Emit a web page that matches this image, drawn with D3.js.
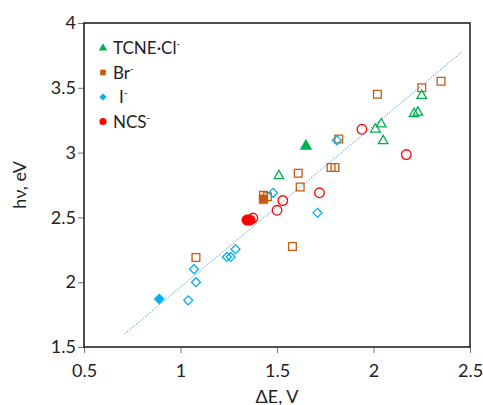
<!DOCTYPE html>
<html>
<head>
<meta charset="utf-8">
<script src="https://cdn.jsdelivr.net/npm/d3@7"></script>
<style>
  body { margin: 0; background: #fff; }
  text { font-family: Lato, "Open Sans", sans-serif; fill: #222; }
</style>
</head>
<body>
<script>
// data: [ΔE, hν], filled = first marker of each series
var tcneOpen = [[1.51, 2.82], [2.01, 3.18], [2.04, 3.22], [2.05, 3.09], [2.21, 3.30], [2.23, 3.31], [2.25, 3.44]];
var tcneFilled = [[1.65, 3.05]];
var brOpen = [[1.43, 2.67], [1.45, 2.66], [1.08, 2.19], [1.58, 2.275], [1.61, 2.84], [1.62, 2.735], [1.78, 2.885], [1.80, 2.885], [1.82, 3.105], [2.02, 3.45], [2.25, 3.50], [2.35, 3.55]];
var brFilled = [[1.43, 2.64]];
var iOpen = [[1.04, 1.86], [1.07, 2.10], [1.08, 2.00], [1.24, 2.195], [1.26, 2.195], [1.285, 2.255], [1.48, 2.69], [1.71, 2.535], [1.81, 3.095]];
var iFilled = [[0.89, 1.87]];
var ncsOpen = [[1.375, 2.495], [1.50, 2.555], [1.53, 2.63], [1.72, 2.69], [1.94, 3.18], [2.17, 2.985]];
var ncsFilled = [[1.345, 2.48], [1.36, 2.48]];
var trend = [[0.71, 1.60], [2.46, 3.78]];

var xTicks = [0.5, 1, 1.5, 2, 2.5];
var yTicks = [1.5, 2, 2.5, 3, 3.5, 4];

var width = 483;
var height = 405;
var plotLeft = 84, plotTop = 23, plotRight = 470, plotBottom = 347;

var svg = d3.select("body").append("svg")
    .attr("width", width)
    .attr("height", height);

var x = d3.scaleLinear().domain([0.5, 2.5]).range([plotLeft, plotRight]);
var y = d3.scaleLinear().domain([1.5, 4]).range([plotBottom, plotTop]);

var xAxis = d3.axisBottom(x).tickValues(xTicks).tickSize(6).tickFormat(d3.format("~g"));
var yAxis = d3.axisLeft(y).tickValues(yTicks).tickSize(6).tickFormat(d3.format("~g"));

var gx = svg.append("g")
    .attr("transform", "translate(0," + plotBottom + ")")
    .call(xAxis);
var gy = svg.append("g")
    .attr("transform", "translate(" + plotLeft + ",0)")
    .call(yAxis);

[gx, gy].forEach(function (g) {
    g.select(".domain").remove();
    g.selectAll(".tick line").attr("stroke", "#777");
    g.selectAll(".tick text").attr("font-size", 18).attr("fill", "#222")
        .style("font-family", "Lato, 'Open Sans', sans-serif");
});
gx.selectAll(".tick text").attr("dy", "1.15em");
gy.selectAll(".tick text").attr("x", -8);

svg.append("rect")
    .attr("x", plotLeft).attr("y", plotTop)
    .attr("width", plotRight - plotLeft).attr("height", plotBottom - plotTop)
    .attr("fill", "none").attr("stroke", "#222").attr("stroke-width", 1.6);

// dotted trend line
svg.append("path")
    .datum(trend)
    .attr("fill", "none")
    .attr("stroke", "#5b9bd5")
    .attr("stroke-width", 1)
    .attr("stroke-dasharray", "1.5,1.5")
    .attr("d", d3.line().x(d => x(d[0])).y(d => y(d[1])));

var green = "#00b050", brown = "#c55a11", blue = "#00b0f0", red = "#ff0000";

// "diamond" here is a square turned 45 degrees, like the spreadsheet marker
function draw(data, type, size, color, filled) {
    var rot = type === "diamond" ? " rotate(45)" : "";
    var sym = type === "diamond" ? d3.symbolSquare : type;
    svg.append("g").selectAll("path")
        .data(data)
        .enter().append("path")
        .attr("transform", d => "translate(" + x(d[0]) + "," + y(d[1]) + ")" + rot)
        .attr("d", d3.symbol().type(sym).size(size))
        .attr("fill", filled ? color : "none")
        .attr("stroke", color)
        .attr("stroke-width", filled ? 0.5 : 1.3);
}

draw(brOpen, d3.symbolSquare, 60, brown, false);
draw(iOpen, "diamond", 40, blue, false);
draw(ncsOpen, d3.symbolCircle, 72, red, false);
draw(tcneOpen, d3.symbolTriangle, 40, green, false);
draw(brFilled, d3.symbolSquare, 78, brown, true);
draw(iFilled, "diamond", 55, blue, true);
draw(ncsFilled, d3.symbolCircle, 90, red, true);
draw(tcneFilled, d3.symbolTriangle, 60, green, true);

// legend
var legend = [
    { name: "TCNE·Cl", type: d3.symbolTriangle, color: green, size: 30, gap: 10, rot: "" },
    { name: "Br", type: d3.symbolSquare, color: brown, size: 32, gap: 10, rot: "" },
    { name: "I", type: d3.symbolSquare, color: blue, size: 26, gap: 16, rot: " rotate(45)" },
    { name: "NCS", type: d3.symbolCircle, color: red, size: 40, gap: 10, rot: "" }
];
var lg = svg.append("g").selectAll("g")
    .data(legend)
    .enter().append("g")
    .attr("transform", (d, i) => "translate(103," + (48 + i * 24.5) + ")");
lg.append("path")
    .attr("transform", d => "translate(0,0)" + d.rot)
    .attr("d", d => d3.symbol().type(d.type).size(d.size)())
    .attr("fill", d => d.color);
var lt = lg.append("text")
    .attr("x", d => d.gap)
    .attr("y", 6)
    .attr("font-size", 17);
lt.append("tspan").text(d => d.name);
lt.append("tspan").attr("dy", -7).attr("font-size", 10).text("-");

svg.append("text")
    .attr("transform", "translate(26," + ((plotTop + plotBottom) / 2) + ") rotate(-90)")
    .attr("text-anchor", "middle")
    .attr("font-size", 18)
    .text("hν, eV");

svg.append("text")
    .attr("x", (plotLeft + plotRight) / 2)
    .attr("y", 403)
    .attr("text-anchor", "middle")
    .attr("font-size", 18)
    .text("ΔE, V");
</script>
</body>
</html>
